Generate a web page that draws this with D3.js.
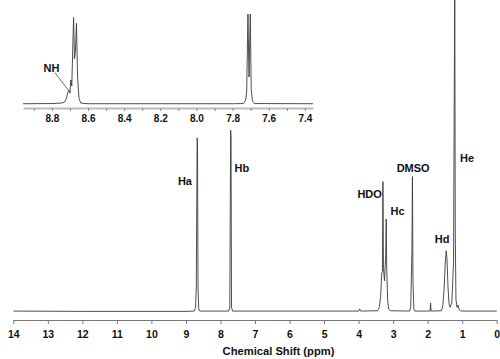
<!DOCTYPE html>
<html>
<head>
<meta charset="utf-8">
<script src="https://cdn.jsdelivr.net/npm/d3@7"></script>
<style>
body { margin: 0; background: #fff; }
text { font-family: "Liberation Sans", Arial, sans-serif; font-weight: bold; fill: #111; }
</style>
</head>
<body>
<div id="graph"></div>
<script>
"use strict";

let width = 500,
    height = 359;

// full spectrum, vertices (ppm, relative intensity)
const mainPpm = [14.0, 12.0, 9.0, 8.76, 8.72, 8.70, 8.675, 8.665, 8.65, 8.63, 8.60,
    7.76, 7.73, 7.705, 7.695, 7.68, 7.65,
    4.00, 3.97, 3.94,
    3.45, 3.40, 3.36, 3.33, 3.31, 3.295, 3.28, 3.25, 3.215, 3.20, 3.185, 3.16, 3.13, 3.08,
    2.52, 2.49, 2.455, 2.44, 2.425, 2.40, 2.37,
    1.93, 1.915, 1.90,
    1.60, 1.56, 1.52, 1.49, 1.46, 1.44, 1.41, 1.38, 1.35,
    1.30, 1.25, 1.215, 1.20, 1.18, 1.15, 1.12, 1.09, 1.06, 1.02, 0.0];
const mainInt = [0.3, 0.2, 0.2, 0.3, 1.5, 8, 55.8, 54, 8, 1, 0.3,
    0.3, 1.5, 58.3, 56, 1.5, 0.3,
    0.3, 1.0, 0.3,
    0.4, 1.5, 5, 12.5, 13, 41.8, 14, 10, 18, 29.8, 14, 4, 1, 0.4,
    0.3, 1.5, 20, 43.4, 10, 1, 0.3,
    0.3, 2.9, 0.3,
    0.4, 2, 8, 16, 19.6, 17, 8, 2.5, 1.5,
    3, 16, 105, 25, 4, 1.5, 2.2, 0.8, 0.5, 0.3, 0.3];

// expanded region 8.96 - 7.355 ppm
const insetPpm = [8.96, 8.80, 8.75, 8.73, 8.72, 8.712, 8.705, 8.700, 8.695, 8.690,
    8.680, 8.675, 8.670, 8.664, 8.658, 8.650, 8.64, 8.60,
    7.80, 7.74, 7.728, 7.722, 7.715, 7.709, 7.702, 7.697, 7.690, 7.68, 7.355];
const insetInt = [0.3, 0.5, 1, 2, 6, 13, 15.6, 12, 26.7, 20,
    95.9, 50, 58, 89.7, 30, 6, 1, 0.3,
    0.3, 0.5, 4, 14, 100, 30, 100, 16, 3, 0.5, 0.3];

const mainTicks = [14, 13, 12, 11, 10, 9, 8, 7, 6, 5, 4, 3, 2, 1, 0];
const insetTicks = [8.9, 8.8, 8.7, 8.6, 8.5, 8.4, 8.3, 8.2, 8.1, 8.0, 7.9, 7.8, 7.7, 7.6, 7.5, 7.4];
const insetTickLabels = ["", "8.8", "", "8.6", "", "8.4", "", "8.2", "", "8.0", "", "7.8", "", "7.6", "", "7.4"];

// peak assignments and where their labels sit (ppm, intensity)
const peakNames = ["Ha", "Hb", "HDO", "Hc", "DMSO", "Hd", "He"];
const peakLabelPpm = [9.03, 7.38, 3.68, 2.87, 2.42, 1.58, 0.86];
const peakLabelInt = [42.0, 46.0, 37.8, 32.4, 46.3, 23.4, 49.4];

let svg = d3.select("#graph")
    .append("svg")
    .attr("width", width)
    .attr("height", height);

// main spectrum
let x = d3.scaleLinear().domain([14, 0]).range([13.3, 496.7]);
let y = d3.scaleLinear().domain([0, 100]).range([312, 0]);

let mainLine = d3.line()
    .x(function(d, i) { return x(mainPpm[i]); })
    .y(function(d, i) { return y(mainInt[i]); });

svg.append("path")
    .datum(mainPpm)
    .attr("fill", "none")
    .attr("stroke", "#3a3a3a")
    .attr("stroke-width", 0.9)
    .attr("d", mainLine);

let xAxis = svg.append("g")
    .attr("transform", "translate(0,320)")
    .call(d3.axisBottom(x).tickValues(mainTicks).tickSize(4).tickSizeOuter(0).tickPadding(7)
        .tickFormat(d3.format("d")));
xAxis.select(".domain").attr("stroke", "#777");
xAxis.selectAll(".tick line").attr("stroke", "#777");
xAxis.selectAll(".tick text")
    .style("font-size", "10.5px")
    .style("font-family", "'Liberation Sans', Arial, sans-serif")
    .style("font-weight", "bold")
    .attr("fill", "#111");

svg.append("text")
    .attr("x", 278.5)
    .attr("y", 355)
    .attr("text-anchor", "middle")
    .style("font-size", "11.2px")
    .text("Chemical Shift (ppm)");

svg.selectAll(".peaklabel")
    .data(peakNames)
    .enter()
    .append("text")
    .attr("class", "peaklabel")
    .attr("x", function(d, i) { return x(peakLabelPpm[i]); })
    .attr("y", function(d, i) { return y(peakLabelInt[i]); })
    .attr("dy", "0.36em")
    .attr("text-anchor", "middle")
    .style("font-size", "11px")
    .text(function(d) { return d; });

// inset expansion
let xi = d3.scaleLinear().domain([8.96, 7.355]).range([23, 313]);
let yi = d3.scaleLinear().domain([0, 100]).range([104, 14]);

let insetLine = d3.line()
    .x(function(d, i) { return xi(insetPpm[i]); })
    .y(function(d, i) { return yi(insetInt[i]); });

svg.append("path")
    .datum(insetPpm)
    .attr("fill", "none")
    .attr("stroke", "#3a3a3a")
    .attr("stroke-width", 0.9)
    .attr("d", insetLine);

let insetAxis = svg.append("g")
    .attr("transform", "translate(0,108)")
    .call(d3.axisBottom(xi).tickValues(insetTicks).tickSize(3).tickSizeOuter(0).tickPadding(4)
        .tickFormat(function(d, i) { return insetTickLabels[i]; }));
insetAxis.select(".domain").attr("stroke", "#bbb").attr("stroke-width", 2);
insetAxis.selectAll(".tick line").attr("stroke", "#888");
insetAxis.selectAll(".tick text")
    .style("font-size", "10px")
    .style("font-family", "'Liberation Sans', Arial, sans-serif")
    .style("font-weight", "bold")
    .attr("fill", "#111");

// NH shoulder label with leader line
svg.append("line")
    .attr("x1", xi(8.783)).attr("y1", yi(34.8))
    .attr("x2", xi(8.71)).attr("y2", yi(15.6))
    .attr("stroke", "#444")
    .attr("stroke-width", 0.8);

svg.append("text")
    .attr("x", xi(8.802))
    .attr("y", yi(39.7))
    .attr("dy", "0.36em")
    .attr("text-anchor", "middle")
    .style("font-size", "11px")
    .text("NH");
</script>
</body>
</html>
